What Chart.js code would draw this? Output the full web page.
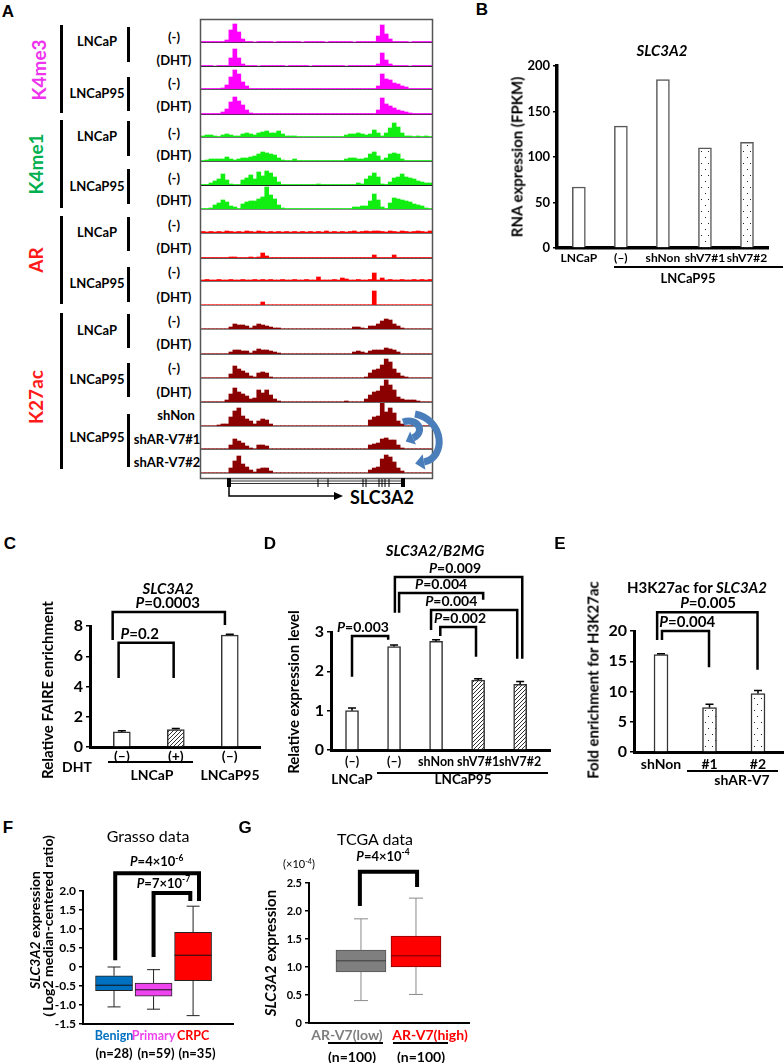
<!doctype html>
<html lang="en">
<head>
<meta charset="utf-8">
<title>SLC3A2 chromatin and expression</title>
<script src="https://cdn.jsdelivr.net/npm/chart.js"></script>
<style>
  html, body { margin: 0; background: #fff; }
  #page { position: relative; width: 784px; height: 1063px; overflow: hidden; font-family: Lato, 'Liberation Sans', sans-serif; font-weight: 700; color: #000; }
  #page canvas { position: absolute; }
  .t { position: absolute; white-space: nowrap; line-height: 1; transform: translate(-50%, -50%); }
  .rule { position: absolute; background: #000; }
  sup { font-size: 0.65em; vertical-align: 0.45em; line-height: 0; }
  #overlay { position: absolute; left: 0; top: 0; z-index: 2; }
</style>
</head>
<body>
<div id="page">
  <svg id="overlay" width="784" height="1063">
    <rect x="200.5" y="19.5" width="232" height="459" fill="none" stroke="#555" stroke-width="1.5"/>
    <rect x="227" y="478" width="4" height="9" fill="#000"/>
    <rect x="401" y="478" width="4" height="9" fill="#000"/>
    <line x1="231" y1="481" x2="401" y2="481" stroke="#000" stroke-width="0.8"/>
    <line x1="231" y1="483.5" x2="401" y2="483.5" stroke="#000" stroke-width="0.8"/>
    <g stroke="#000" stroke-width="1">
      <line x1="318" y1="479" x2="318" y2="487"/><line x1="328" y1="479" x2="328" y2="487"/>
      <line x1="363" y1="479" x2="363" y2="487"/><line x1="366" y1="479" x2="366" y2="487"/>
      <line x1="379" y1="479" x2="379" y2="487"/><line x1="382" y1="479" x2="382" y2="487"/>
      <line x1="385" y1="479" x2="385" y2="487"/><line x1="389" y1="479" x2="389" y2="487"/>
    </g>
    <polyline points="229,487 229,496 336,496" fill="none" stroke="#000" stroke-width="1.5"/>
    <polygon points="334,492 343,496 334,500" fill="#000"/>
    <path d="M403 422 C418 417 426 432 413 438" fill="none" stroke="#4a7ebb" stroke-width="7"/>
    <polygon points="405.7,441.4 416,444.4 410.1,431.6" fill="#4a7ebb"/>
    <path d="M415 414 C445 420 446 458 424 462" fill="none" stroke="#4a7ebb" stroke-width="7"/>
    <polygon points="415.2,463.6 425.4,469.8 422.6,454.2" fill="#4a7ebb"/>
  </svg>
</div>
<script>
// ---------- A: ChIP-seq signal across SLC3A2, 58 bins of ~4px ----------
const binLabels = Array.from({ length: 58 }, (_, i) => i + 1)

const k4me3_LNCaP_veh = [
  .5, .5, .5, .5, .5, .5, 2, 12, 18, 10,
  3, .5, .5, 0, .5, .5, .5, .5, 0, .5,
  .5, .5, .5, .5, .5, 0, .5, .5, .5, .5,
  .5, 0, .5, .5, .5, .5, .5, .5, 0, .5,
  .5, .5, .5, .5, 6, 17, 8, 3, .5, .5,
  .5, .5, 0, .5, .5, .5, .5, .5
]
const k4me3_LNCaP_dht = [
  .5, .5, .5, 0, .5, .5, .5, 8, 17, 8,
  2, .5, .5, .5, 0, .5, .5, .5, .5, .5,
  .5, 0, .5, .5, .5, .5, .5, 0, .5, .5,
  .5, .5, .5, .5, .5, .5, 0, .5, .5, .5,
  .5, .5, .5, .5, 2, 13, 6, 2, .5, .5,
  .5, .5, 0, .5, .5, .5, .5, .5
]
const k4me3_LNCaP95_veh = [
  .5, .5, .5, .5, .5, 1, 4, 12, 19, 15,
  7, 3, .5, .5, .5, .5, .5, .5, .5, .5,
  .5, .5, .5, .5, .5, .5, .5, .5, .5, .5,
  .5, .5, .5, .5, .5, .5, .5, .5, .5, .5,
  .5, .5, .5, .5, 3, 15, 10, 9, 6, 5,
  3, 2, .5, .5, .5, .5, .5, .5
]
const k4me3_LNCaP95_dht = [
  .5, .5, .5, .5, .5, 2, 5, 12, 17, 13,
  9, 4, 1, .5, .5, .5, .5, .5, .5, .5,
  .5, .5, .5, .5, .5, .5, .5, .5, .5, .5,
  .5, .5, .5, .5, .5, .5, .5, .5, .5, .5,
  .5, .5, .5, .5, 4, 16, 10, 8, 6, 4,
  3, 2, 1, .5, .5, .5, .5, .5
]
const k4me1_LNCaP_veh = [
  1, 2, 2, 1, .5, 2, 3, 2, 1, 1,
  3, 4, 3, 2, 4, 5, 6, 4, 4, 6,
  3, 1, 1, 1, .5, .5, .5, .5, .5, .5,
  .5, .5, .5, .5, .5, .5, 2, 3, 3, 4,
  3, 2, 3, 7, 4, 1, 4, 9, 14, 10,
  4, 1, 1, .5, 1, .5, 1, .5
]
const k4me1_LNCaP_dht = [
  .5, 1, 2, 2, 2, 2, 4, 2, 1, 2,
  3, 3, 4, 5, 7, 9, 8, 7, 6, 3,
  1, .5, .5, 2, .5, .5, .5, .5, .5, .5,
  .5, .5, .5, .5, .5, .5, 2, 3, 3, 2,
  2, 3, 7, 9, 5, 1, 3, 7, 8, 7,
  2, .5, .5, .5, .5, .5, .5, .5
]
const k4me1_LNCaP95_veh = [
  .5, .5, 2, 4, 6, 11, 5, 1, .5, .5,
  5, 7, 10, 6, 13, 9, 14, 12, 8, 3,
  .5, .5, .5, .5, .5, .5, .5, .5, .5, 1,
  .5, .5, .5, .5, .5, .5, .5, .5, .5, 2,
  1, 6, 9, 12, 8, 1, .5, 3, 7, 8,
  11, 8, 7, 6, 4, 3, 2, 2
]
const k4me1_LNCaP95_dht = [
  .5, .5, 1, 4, 6, 9, 7, 3, 2, .5,
  5, 7, 8, 8, 10, 12, 22, 14, 10, 4,
  1, .5, .5, .5, .5, .5, .5, .5, .5, .5,
  .5, .5, .5, .5, .5, .5, .5, .5, 2, 2,
  3, 3, 8, 15, 9, 2, .5, 6, 11, 10,
  9, 8, 7, 5, 4, 3, 1, .5
]
const ar_LNCaP_veh = [
  1.5, 1, 1.5, 1, 1.5, 1, 2, 1.5, 1, 1.5,
  1, 2, 1.5, 1, 2, 1.5, 1, 1.5, 1, 1.5,
  1, 1.5, 1, 1.5, 1, 1.5, 1, 1.5, 1, 1.5,
  1, 2, 1, 1.5, 1, 1.5, 1, 1.5, 2, 1,
  1.5, 2, 1.5, 2, 2, 1.5, 1, 2, 1.5, 1,
  2, 1.5, 1, 1.5, 2, 1.5, 1, 2
]
const ar_LNCaP_dht = [
  .5, .5, .5, .5, .5, .5, .5, 1, 1, .5,
  .5, .5, 1, .5, 1, 5, 2, .5, .5, .5,
  .5, .5, .5, .5, .5, .5, .5, .5, .5, .5,
  .5, .5, .5, .5, .5, .5, .5, .5, .5, .5,
  .5, .5, .5, 3, .5, .5, .5, .5, 3, .5,
  .5, .5, .5, .5, .5, .5, .5, .5
]
const ar_LNCaP95_veh = [
  1, 1.5, 1, 1, 1.5, 1, 1, 1.5, 1, 1,
  1.5, 1, 1, 1.5, 1, 1.5, 1, 1.5, 1, 1,
  1.5, 1, 1, 1.5, 1, 1, 1.5, 1, 1, 4,
  1, 1, 1, 1.5, 1, 3, 2, 1, 1, 1.5,
  1, 1, 1.5, 8, 1, 3, 1, 1.5, 1, 1,
  1.5, 1, 1, 1.5, 1, 1.5, 1, 1.5
]
const ar_LNCaP95_dht = [
  .3, .3, .3, .3, .3, .3, .3, .3, .3, .3,
  .3, .3, .3, .3, .3, 3, .3, .3, .3, .3,
  .3, .3, .3, .3, .3, .3, .3, .3, .3, .3,
  .3, .3, .3, .3, .3, .3, .3, .3, .3, .3,
  .3, .3, .3, 14, .3, .3, .3, .3, .3, .3,
  .3, .3, .3, .3, .3, .3, .3, .3
]
const k27ac_LNCaP_veh = [
  .3, .3, .3, .3, .3, .3, .3, 2, 5, 4,
  4, 3, 1, 3, 5, 4, 3, 2, 1, 1,
  .3, .3, .3, .3, .3, .3, .3, .3, .3, .3,
  .3, .3, .3, .3, .3, .3, .3, .3, 2, 2,
  1, .5, 3, 3, 5, 8, 10, 9, 5, 3,
  1, .3, .3, .3, .3, .3, .3, .3
]
const k27ac_LNCaP_dht = [
  .3, .3, .3, .3, .3, .3, .3, 2, 4, 4,
  3, 3, 1, 3, 5, 4, 4, 3, 2, 1,
  .3, .3, .3, .3, .3, .3, .3, .3, .3, .3,
  .3, .3, .3, .3, .3, .3, .3, .3, 2, 3,
  2, 1, 3, 4, 4, 4, 6, 5, 4, 2,
  .3, .3, .3, .3, .3, .3, .3, .3
]
const k27ac_LNCaP95_veh = [
  .3, .3, .3, .3, .3, .3, .3, 4, 12, 9,
  7, 5, 2, 1, 5, 6, 5, 1, .3, .3,
  .3, .3, .3, .3, .3, .3, .3, .3, .3, .3,
  .3, .3, .3, .3, .3, .3, .3, .3, .3, .3,
  .3, 1, 5, 8, 9, 13, 19, 16, 9, 5,
  2, 1, .3, .3, .3, .3, .3, .3
]
const k27ac_LNCaP95_dht = [
  .3, .3, .3, .3, .3, .3, 2, 8, 14, 10,
  8, 6, 3, 4, 12, 9, 12, 7, 3, 1,
  .3, .3, .3, .3, .3, .3, .3, .3, .3, .3,
  .3, .3, .3, .3, .3, .3, 1, .3, .3, .3,
  .3, 3, 7, 10, 11, 16, 22, 17, 12, 5,
  3, 2, 2, 2, 1, .3, .3, .3
]
const k27ac_shNon = [
  .3, .3, .3, .3, 1, 2, 2, 9, 15, 18,
  10, 7, 5, 2, 5, 7, 6, 2, .3, .3,
  .3, .3, .3, .3, .3, .3, .3, .3, .3, .3,
  .3, .3, .3, .3, .3, .3, .3, .3, .3, .3,
  .3, .3, 6, 9, 10, 23, 14, 18, 13, 5,
  2, .3, .3, .3, .3, .3, .3, .3
]
const k27ac_shV7_1 = [
  .3, .3, .3, .3, .3, .3, .3, 4, 10, 8,
  6, 3, 1, .3, 4, 4, 3, .3, .3, .3,
  .3, .3, .3, .3, .3, .3, .3, .3, .3, .3,
  .3, .3, .3, .3, .3, .3, .3, .3, .3, .3,
  .3, .3, 4, 5, 6, 10, 11, 9, 9, 4,
  1, .3, .3, .3, .3, .3, .3, .3
]
const k27ac_shV7_2 = [
  .3, .3, .3, .3, .3, .3, .3, 5, 12, 17,
  9, 6, 3, 1, 4, 5, 5, 2, .3, .3,
  .3, .3, .3, .3, .3, .3, .3, .3, .3, .3,
  .3, .3, .3, .3, .3, .3, .3, .3, .3, .3,
  .3, .3, 3, 5, 6, 14, 18, 16, 11, 5,
  2, .3, .3, .3, .3, .3, .3, .3
]

// ---------- B ----------
const bLabels = ['LNCaP', '(–)', 'shNon', 'shV7#1', 'shV7#2']
const bFpkm = [67, 134, 185, 110, 116]

// ---------- C ----------
const cLabels = ['(–)', '(+)', '(–)']
const cFaire = [1.0, 1.16, 7.4]
const cErr = [0.07, 0.06, 0.05]

// ---------- D ----------
const dLabels = ['(–)', '(–)', 'shNon', 'shV7#1', 'shV7#2']
const dExpr = [1.0, 2.63, 2.76, 1.78, 1.67]
const dErr = [0.07, 0.04, 0.04, 0.03, 0.07]

// ---------- E ----------
const eLabels = ['shNon', '#1', '#2']
const eFold = [16.1, 7.35, 9.67]
const eErr = [0.15, 0.55, 0.5]

// ---------- F (Grasso) ----------
const fGroups = ['Benign', 'Primary', 'CRPC']
const fMin = [-1.05, -1.11, -1.28]
const fQ1 = [-0.62, -0.77, -0.36]
const fMed = [-0.48, -0.6, 0.31]
const fQ3 = [-0.23, -0.42, 0.91]
const fMax = [0.0, -0.07, 1.6]

// ---------- G (TCGA) ----------
const gGroups = ['AR-V7(low)', 'AR-V7(high)']
const gMin = [0.4, 0.51]
const gQ1 = [0.91, 1.0]
const gMed = [1.11, 1.2]
const gQ3 = [1.3, 1.55]
const gMax = [1.86, 2.23]

const page = document.getElementById('page')

function txt(html, x, y, size, extra) {
  const d = document.createElement('div')
  d.className = 't'
  d.innerHTML = html
  d.style.cssText = `left:${x}px;top:${y}px;font-size:${size}px;` + (extra || '')
  page.appendChild(d)
}
const ROT = 'transform:translate(-50%,-50%) rotate(-90deg);'
function rect(x, y, w, h, color) {
  const d = document.createElement('div')
  d.className = 'rule'
  d.style.cssText = `left:${x}px;top:${y}px;width:${w}px;height:${h}px;background:${color || '#000'}`
  page.appendChild(d)
}
function addCanvas(l, t, w, h) {
  const c = document.createElement('canvas')
  c.width = w
  c.height = h
  c.style.left = l + 'px'
  c.style.top = t + 'px'
  page.appendChild(c)
  return c
}

function makePattern(kind) {
  const t = document.createElement('canvas')
  const g = t.getContext('2d')
  if (kind === 'dots') {
    t.width = 7; t.height = 12
    g.fillStyle = '#fff'; g.fillRect(0, 0, 7, 12)
    g.fillStyle = '#222'; g.fillRect(2, 3, 1, 1); g.fillRect(5, 9, 1, 1)
  } else {
    t.width = 4; t.height = 4
    g.fillStyle = '#fff'; g.fillRect(0, 0, 4, 4)
    g.strokeStyle = '#333'; g.lineWidth = 1
    g.beginPath()
    g.moveTo(0, 4); g.lineTo(4, 0)
    g.moveTo(-1, 1); g.lineTo(1, -1)
    g.moveTo(3, 5); g.lineTo(5, 3)
    g.stroke()
  }
  return g.createPattern(t, 'repeat')
}
const dots = makePattern('dots')
const hatch = makePattern('hatch')

// ---------- panel A layout ----------
const trackRows = [
  [k4me3_LNCaP_veh, '#ff00ff', '#6b1f6b', 42],
  [k4me3_LNCaP_dht, '#ff00ff', '#333', 66],
  [k4me3_LNCaP95_veh, '#ff00ff', '#555', 89],
  [k4me3_LNCaP95_dht, '#ff00ff', '#6b1f6b', 114],
  [k4me1_LNCaP_veh, '#11ee11', '#777', 137],
  [k4me1_LNCaP_dht, '#11ee11', '#555', 161],
  [k4me1_LNCaP95_veh, '#11ee11', '#222', 185],
  [k4me1_LNCaP95_dht, '#11ee11', '#888', 209],
  [ar_LNCaP_veh, '#ff0000', '#777', 233],
  [ar_LNCaP_dht, '#ff0000', '#555', 258],
  [ar_LNCaP95_veh, '#ff0000', '#777', 281],
  [ar_LNCaP95_dht, '#ff0000', '#888', 305],
  [k27ac_LNCaP_veh, '#8b0000', '#888', 329],
  [k27ac_LNCaP_dht, '#8b0000', '#666', 354],
  [k27ac_LNCaP95_veh, '#8b0000', '#888', 378],
  [k27ac_LNCaP95_dht, '#8b0000', '#666', 402],
  [k27ac_shNon, '#8b0000', '#888', 426],
  [k27ac_shV7_1, '#8b0000', '#666', 449],
  [k27ac_shV7_2, '#8b0000', '#888', 473]
]

trackRows.forEach(([signal, color, lineColor, base]) => {
  rect(201, base, 231, 1, lineColor)
  const cv = addCanvas(201, base - 23, 231, 23)
  new Chart(cv, {
    type: 'bar',
    data: {
      labels: binLabels,
      datasets: [{ data: signal, backgroundColor: color, borderWidth: 0, barPercentage: 1, categoryPercentage: 1 }]
    },
    options: {
      responsive: false, animation: false, events: [],
      layout: { padding: 0 },
      plugins: { legend: { display: false }, tooltip: { enabled: false } },
      scales: { x: { display: false }, y: { display: false, min: 0, max: 23 } }
    }
  })
})

// ---------- shared drawing for bar / box panels ----------
function drawP(ctx, cx, baseY, rest, sup, size) {
  const reg = s => `bold ${s}px Lato`
  const ital = `italic bold ${size}px Lato`
  ctx.font = ital
  const wP = ctx.measureText('P').width
  ctx.font = reg(size)
  const wR = ctx.measureText(rest).width
  let wS = 0
  if (sup) { ctx.font = reg(size * 0.65); wS = ctx.measureText(sup).width }
  let x = cx - (wP + wR + wS) / 2
  ctx.textAlign = 'left'
  ctx.textBaseline = 'alphabetic'
  ctx.fillStyle = '#000'
  ctx.font = ital; ctx.fillText('P', x, baseY); x += wP
  ctx.font = reg(size); ctx.fillText(rest, x, baseY); x += wR
  if (sup) { ctx.font = reg(size * 0.65); ctx.fillText(sup, x, baseY - size * 0.42) }
}

function marks(p) {
  return {
    id: 'marks',
    afterDatasetsDraw(chart) {
      const ctx = chart.ctx, xs = chart.scales.x, ys = chart.scales.y
      ctx.save()
      ctx.strokeStyle = '#000'
      if (p.errors) {
        ctx.lineWidth = 1.5
        p.errors.forEach((e, i) => {
          const x = xs.getPixelForValue(i)
          const y0 = ys.getPixelForValue(p.values[i]), y1 = ys.getPixelForValue(p.values[i] + e)
          ctx.beginPath()
          ctx.moveTo(x, y0); ctx.lineTo(x, y1)
          ctx.moveTo(x - 4, y1); ctx.lineTo(x + 4, y1)
          ctx.stroke()
        })
      }
      if (p.box) {
        const b = p.box
        b.lo.forEach((lo, i) => {
          const x = xs.getPixelForValue(i)
          const py = v => ys.getPixelForValue(v)
          ctx.strokeStyle = b.whisker
          ctx.lineWidth = 1
          ctx.beginPath()
          ctx.moveTo(x, py(b.q3[i])); ctx.lineTo(x, py(b.hi[i]))
          ctx.moveTo(x - b.capW / 2, py(b.hi[i])); ctx.lineTo(x + b.capW / 2, py(b.hi[i]))
          ctx.moveTo(x, py(b.q1[i])); ctx.lineTo(x, py(lo))
          ctx.moveTo(x - b.capW / 2, py(lo)); ctx.lineTo(x + b.capW / 2, py(lo))
          ctx.stroke()
          ctx.strokeStyle = b.median[i]
          ctx.beginPath()
          ctx.moveTo(x - b.boxW / 2, py(b.med[i])); ctx.lineTo(x + b.boxW / 2, py(b.med[i]))
          ctx.stroke()
        })
      }
      ctx.strokeStyle = '#000'
      ctx.lineWidth = p.bracketW || 2.5
      ctx.lineJoin = 'miter'
      for (const br of p.brackets || []) {
        const [l, r, top, endL, endR, tx, rest, sup, gap] = br
        const xl = xs.getPixelForValue(l), xr = xs.getPixelForValue(r)
        const yt = ys.getPixelForValue(top)
        ctx.beginPath()
        ctx.moveTo(xl, ys.getPixelForValue(endL))
        ctx.lineTo(xl, yt)
        ctx.lineTo(xr, yt)
        ctx.lineTo(xr, ys.getPixelForValue(endR))
        ctx.stroke()
        drawP(ctx, xs.getPixelForValue(tx), yt - (gap || 3) - ctx.lineWidth / 2, rest, sup, p.pSize)
      }
      ctx.restore()
    }
  }
}

function panel(p) {
  const cl = p.x0 - 64, ct = p.y1 - 80
  const cw = p.x1 - cl + 16, ch = p.y0 - ct + 36
  const axisH = ch - (p.y0 - ct)
  const cv = addCanvas(cl, ct, cw, ch)
  const font = s => ({ family: 'Lato', weight: 'bold', size: s })
  return new Chart(cv, {
    type: 'bar',
    data: { datasets: p.datasets },
    options: {
      responsive: false, animation: false, events: [],
      layout: { padding: { left: p.x0 - cl - 30, top: p.y1 - ct, right: cw - (p.x1 - cl), bottom: 0 } },
      plugins: { legend: { display: false }, tooltip: { enabled: false } },
      scales: {
        x: {
          type: 'linear', bounds: 'data', offset: false, min: p.xMin, max: p.xMax,
          afterBuildTicks: a => { a.ticks = p.labels.map((_, i) => ({ value: i })) },
          afterFit: a => { a.height = axisH },
          ticks: {
            display: !p.hideX, autoSkip: false, maxRotation: 0, padding: p.xPad, font: font(p.xFont),
            color: p.xColors ? c => p.xColors[c.index] : '#000',
            callback: v => p.labels[v]
          },
          grid: { display: false, drawTicks: false },
          border: { color: '#000', width: p.axisW }
        },
        y: {
          min: p.yMin || 0, max: p.yMax,
          afterFit: a => { a.width = 30 },
          ticks: { stepSize: p.yStep, padding: 3, font: font(p.yFont), color: '#000' },
          grid: { drawOnChartArea: false, tickLength: 4, lineWidth: p.tickW || 1.5, color: '#000' },
          border: { color: '#000', width: p.axisW }
        }
      }
    },
    plugins: [marks(p)]
  })
}

// B
panel({
  x0: 557, x1: 768, y1: 66, y0: 248, xMin: -0.52, xMax: 4.5, yMax: 200, yStep: 50,
  yFont: 13, xFont: 12, xPad: 3, axisW: 3.5, labels: bLabels,
  datasets: [{
    data: bFpkm.map((v, i) => ({ x: i, y: v })),
    backgroundColor: ['#fff', '#fff', '#fff', dots, dots],
    borderColor: '#595959', borderWidth: 1.5, borderSkipped: 'start', barThickness: 13
  }]
})

// C
panel({
  x0: 90, x1: 260, y1: 626, y0: 747, xMin: -0.59, xMax: 2.56, yMax: 8, yStep: 2,
  yFont: 16, xFont: 14, xPad: 1, axisW: 3, labels: cLabels, pSize: 15,
  values: cFaire, errors: cErr,
  brackets: [
    [-0.17, 1.91, 8.93, 7.08, 8.07, 0.85, '=0.0003'],
    [-0.06, 0.96, 6.89, 4.57, 4.57, 0.33, '=0.2']
  ],
  datasets: [{
    data: cFaire.map((v, i) => ({ x: i, y: v })),
    backgroundColor: ['#fff', hatch, '#fff'],
    borderColor: '#333', borderWidth: 1.5, borderSkipped: 'start', barThickness: 17
  }]
})

// D
panel({
  x0: 331, x1: 550, y1: 632, y0: 750, xMin: -0.5, xMax: 4.71, yMax: 3, yStep: 1,
  yFont: 16, xFont: 12.5, xPad: 4, axisW: 3, labels: dLabels, pSize: 14,
  values: dExpr, errors: dErr,
  brackets: [
    [0, 0.86, 2.90, 1.86, 2.80, 0.26, '=0.003'],
    [1.02, 4.05, 4.40, 3.49, 2.32, 2.45, '=0.009'],
    [1.12, 3.12, 3.99, 3.49, 3.82, 2.12, '=0.004'],
    [1.88, 3.93, 3.56, 3.05, 2.32, 2.36, '=0.004'],
    [2.1, 2.95, 3.13, 2.90, 2.37, 2.57, '=0.002']
  ],
  datasets: [{
    data: dExpr.map((v, i) => ({ x: i, y: v })),
    backgroundColor: ['#fff', '#fff', '#fff', hatch, hatch],
    borderColor: '#333', borderWidth: 1.5, borderSkipped: 'start', barThickness: 13
  }]
})

// E
panel({
  x0: 634, x1: 785, y1: 631, y0: 752, xMin: -0.557, xMax: 2.557, yMax: 20, yStep: 5,
  yFont: 16, xFont: 14, xPad: 4, axisW: 3, labels: eLabels, pSize: 15,
  values: eFold, errors: eErr,
  brackets: [
    [-0.08, 1.99, 23.1, 18.5, 13.6, 0.97, '=0.005'],
    [0.02, 0.99, 20.0, 18.5, 14.0, 0.54, '=0.004']
  ],
  datasets: [{
    data: eFold.map((v, i) => ({ x: i, y: v })),
    backgroundColor: ['#fff', dots, dots],
    borderColor: '#333', borderWidth: 1.5, borderSkipped: 'start', barThickness: 14
  }]
})

// F
const fFill = ['#0070c0', '#ee44ee', '#ff0000']
panel({
  x0: 83, x1: 233, y1: 891, y0: 1024, xMin: -0.785, xMax: 3.01, yMin: -1.5, yMax: 2, yStep: 0.5,
  yFont: 12, xFont: 12.5, xPad: 4, axisW: 2, labels: fGroups, xColors: fFill, pSize: 13, bracketW: 4,
  box: { lo: fMin, q1: fQ1, med: fMed, q3: fQ3, hi: fMax, capW: 13, boxW: 37, whisker: '#222', median: ['#111', '#111', '#111'] },
  brackets: [
    [0.03, 2.15, 2.47, 0.18, 1.74, 1.08, '=4×10', '-6', 5],
    [1.0, 1.93, 1.95, 0.26, 1.74, 1.25, '=7×10', '-7', 3]
  ],
  datasets: [{
    data: fQ1.map((q, i) => ({ x: i, y: [q, fQ3[i]] })),
    backgroundColor: fFill, borderColor: '#222', borderWidth: 1, borderSkipped: false, barThickness: 37
  }]
})

// G
const gFill = ['#7f7f7f', '#ff0000']
panel({
  x0: 309, x1: 469, y1: 883, y0: 1023, xMin: -0.945, xMax: 1.964, yMax: 2.5, yStep: 0.5,
  yFont: 11, xFont: 14, xPad: 4, axisW: 2, labels: gGroups, hideX: true, pSize: 13, bracketW: 4,
  box: { lo: gMin, q1: gQ1, med: gMed, q3: gQ3, hi: gMax, capW: 14, boxW: 50, whisker: '#8a8a8a', median: ['#3a3a3a', '#6a0000'] },
  brackets: [
    [-0.02, 1.02, 2.70, 2.09, 2.43, 0.4, '=4×10', '-4', 9]
  ],
  datasets: [{
    data: gQ1.map((q, i) => ({ x: i, y: [q, gQ3[i]] })),
    backgroundColor: gFill, borderColor: ['#555', '#8a0000'], borderWidth: 1, borderSkipped: false, barThickness: 50
  }]
})

// ---------- text: panel letters ----------
const LET = "font-family:'Liberation Sans',Arial,sans-serif;"
txt('A', 8, 11, 17, LET)
txt('B', 482, 9, 17, LET)
txt('C', 10, 543, 17, LET)
txt('D', 270, 543, 17, LET)
txt('E', 560, 543, 17, LET)
txt('F', 8, 827, 17, LET)
txt('G', 245, 827, 17, LET)

// ---------- text: panel A ----------
txt('K4me3', 38, 70, 19, ROT + 'color:#ee33ee;')
txt('K4me1', 35, 164, 19, ROT + 'color:#00b050;')
txt('AR', 35, 260, 19, ROT + 'color:#ff1a1a;')
txt('K27ac', 35, 397, 19, ROT + 'color:#ff1a1a;')
;[[25, 113], [120, 208], [216, 304], [313, 469]].forEach(([a, b]) => rect(60, a, 3, b - a))
;[[27, 62], [77, 111], [121, 156], [169, 204], [217, 251], [267, 302], [314, 348], [363, 397], [414, 467]].forEach(([a, b]) => rect(127, a, 3, b - a))
;[['LNCaP', 41], ['LNCaP95', 93], ['LNCaP', 136], ['LNCaP95', 186], ['LNCaP', 232], ['LNCaP95', 283], ['LNCaP', 330], ['LNCaP95', 379], ['LNCaP95', 437]]
  .forEach(([s, y]) => txt(s, 97, y, 13))
;[['(-)', 37], ['(DHT)', 60], ['(-)', 83], ['(DHT)', 106], ['(-)', 133], ['(DHT)', 155], ['(-)', 178], ['(DHT)', 200],
  ['(-)', 225], ['(DHT)', 248], ['(-)', 272], ['(DHT)', 297], ['(-)', 321], ['(DHT)', 344], ['(-)', 368], ['(DHT)', 392]]
  .forEach(([s, y]) => txt(s, 174, y, 13))
txt('shNon', 176, 415, 13)
txt('shAR-V7#1', 167, 439, 13)
txt('shAR-V7#2', 167, 462, 13)
txt('SLC3A2', 382, 497, 18)

// ---------- text: B ----------
txt('<i>SLC3A2</i>', 662, 50, 15)
txt('RNA expression (FPKM)', 517, 157, 15, ROT)
rect(614, 266, 169, 1.5)
txt('LNCaP95', 688, 278, 13)

// ---------- text: C ----------
txt('<i>SLC3A2</i>', 168, 588, 15)
txt('Relative FAIRE enrichment', 47, 690, 15, ROT)
txt('DHT', 77, 767, 14)
rect(108, 761, 85, 1.5)
txt('LNCaP', 152, 775, 14)
txt('LNCaP95', 230, 775, 14)

// ---------- text: D ----------
txt('<i>SLC3A2/B2MG</i>', 435, 550, 15)
txt('Relative expression level', 293, 692, 15, ROT)
txt('LNCaP', 352, 780, 13.5)
rect(377, 772, 171, 1.5)
txt('LNCaP95', 463, 780, 13.5)

// ---------- text: E ----------
txt('H3K27ac for <i>SLC3A2</i>', 697, 587, 15)
txt('Fold enrichment for H3K27ac', 593, 680, 15, ROT)
rect(687, 770, 91, 1.5)
txt('shAR-V7', 742, 780, 14)

// ---------- text: F ----------
txt('Grasso data', 148, 836, 16, 'font-weight:400;')
txt('<i>SLC3A2</i> expression', 35, 930, 14, ROT)
txt('（Log2 median-centered ratio)', 48, 930, 14, ROT)
txt('(n=28)', 114, 1053, 13)
txt('(n=59)', 156, 1053, 13)
txt('(n=35)', 197, 1053, 13)

// ---------- text: G ----------
txt('TCGA data', 375, 839, 16, 'font-weight:400;')
txt('(×10<sup>-4</sup>)', 299, 863, 11, 'font-weight:400;')
txt('<i>SLC3A2</i> expression', 270, 953, 15, ROT)
txt('AR-V7(low)', 347, 1035, 14, 'color:#7f7f7f;')
txt('AR-V7(high)', 430, 1035, 14, 'color:#ff0000;')
rect(328, 1042, 55, 1.5)
rect(393, 1042, 55, 1.5)
txt('(n=100)', 352, 1057, 14)
txt('(n=100)', 421, 1057, 14)
</script>
</body>
</html>
